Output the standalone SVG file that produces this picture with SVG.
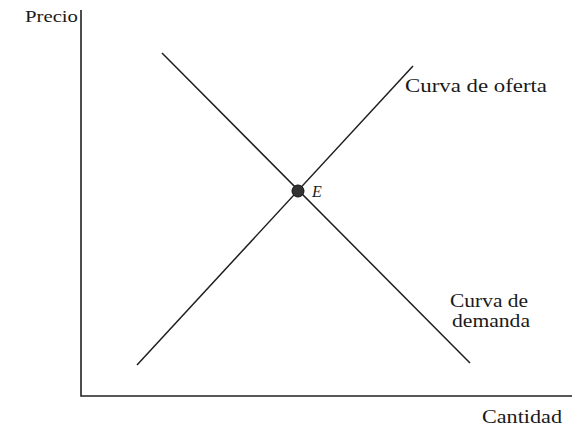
<svg xmlns="http://www.w3.org/2000/svg" width="572" height="427" viewBox="0 0 572 427">
<style>
.ax{stroke:#222;stroke-width:1.6;fill:none}
.cv{stroke:#1e1e1e;stroke-width:1.5;fill:none}
.t{font-family:"Liberation Serif","DejaVu Serif",serif;fill:#1a1a1a}
</style>
<rect width="572" height="427" fill="#fff"/>
<g id="axes">
<path class="ax" d="M81,10 V396 H572"/>
<text class="t" x="25" y="22" font-size="17" textLength="53" lengthAdjust="spacingAndGlyphs">Precio</text>
<text class="t" x="482" y="423" font-size="18" textLength="80" lengthAdjust="spacingAndGlyphs">Cantidad</text>
</g>
<g id="connectors">
<line id="oferta" class="cv" x1="137" y1="365" x2="413" y2="66"/>
<line id="demanda" class="cv" x1="162" y1="53" x2="470" y2="363"/>
</g>
<g id="label-oferta">
<text class="t" x="405" y="92" font-size="19" textLength="142" lengthAdjust="spacingAndGlyphs">Curva de oferta</text>
</g>
<g id="label-demanda">
<text class="t" x="450" y="307" font-size="19" textLength="78" lengthAdjust="spacingAndGlyphs">Curva de</text>
<text class="t" x="452" y="327" font-size="19" textLength="78" lengthAdjust="spacingAndGlyphs">demanda</text>
</g>
<g id="E">
<circle cx="298" cy="191" r="6" fill="#333" stroke="#111" stroke-width="1"/>
<text class="t" x="312" y="197" font-size="16" font-style="italic">E</text>
</g>
</svg>
